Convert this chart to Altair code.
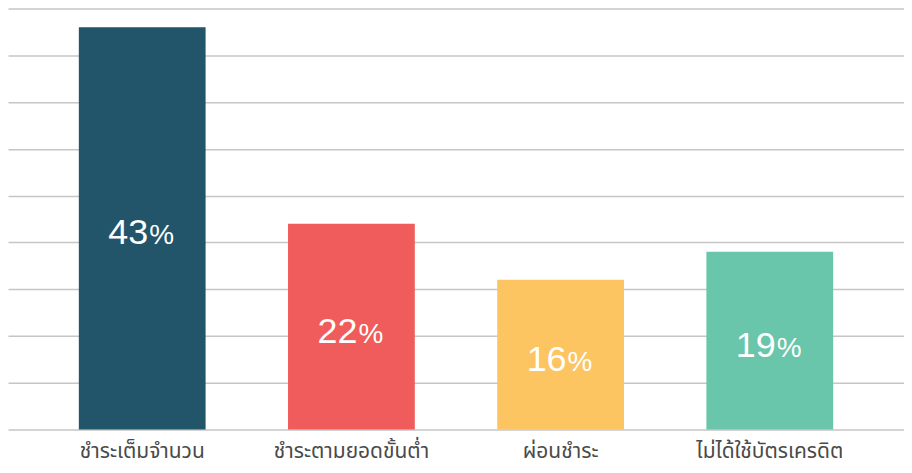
import altair as alt
import pandas as pd

categories = ["ชำระเต็มจำนวน", "ชำระตามยอดขั้นต่ำ", "ผ่อนชำระ", "ไม่ได้ใช้บัตรเครดิต"]
values = [43, 22, 16, 19]
colors = ["#22556a", "#f05b5b", "#fdc462", "#69c6ab"]
y_ticks = [0, 5, 10, 15, 20, 25, 30, 35, 40, 45]

df = pd.DataFrame({
    "category": categories,
    "value": values,
    "num": [str(v) for v in values],
})

x_scale = alt.Scale(domain=categories, paddingInner=0.394, paddingOuter=0.3386)
x_axis = alt.Axis(
    title=None, labelAngle=0, domain=False, ticks=False,
    labelFont="Noto Sans Thai, Noto Sans, sans-serif", labelFontSize=21,
    labelColor="#4a4a4a", labelPadding=11, labelLimit=300,
)
y_scale = alt.Scale(domain=[0, 45], nice=False)
y_axis = alt.Axis(
    title=None, labels=False, ticks=False, domain=False, values=y_ticks,
    gridColor="#c6c6c6", gridWidth=1.5,
)

bars = alt.Chart(df).mark_bar().encode(
    x=alt.X("category:N", sort=categories, scale=x_scale, axis=x_axis),
    y=alt.Y("value:Q", scale=y_scale, axis=y_axis),
    color=alt.Color("category:N", scale=alt.Scale(domain=categories, range=colors), legend=None),
)

base = alt.Chart(df).transform_calculate(mid="datum.value / 2")

num = base.mark_text(
    align="right", baseline="alphabetic", dx=6, dy=16,
    font="Liberation Sans", fontSize=36, color="white",
).encode(
    x=alt.X("category:N", sort=categories, scale=x_scale, axis=x_axis),
    y=alt.Y("mid:Q", scale=y_scale, axis=y_axis),
    text="num:N",
)

pct = base.mark_text(
    align="left", baseline="alphabetic", dx=7, dy=16,
    font="Liberation Sans", fontSize=28, color="white", text="%",
).encode(
    x=alt.X("category:N", sort=categories, scale=x_scale, axis=x_axis),
    y=alt.Y("mid:Q", scale=y_scale, axis=y_axis),
)

chart = alt.layer(bars, num, pct).properties(
    width=898, height=422, padding={"left": 0, "top": 0, "right": 0, "bottom": 6},
).configure_view(stroke=None)

chart.save("out.html", embed_options={"renderer": "svg", "actions": False})
